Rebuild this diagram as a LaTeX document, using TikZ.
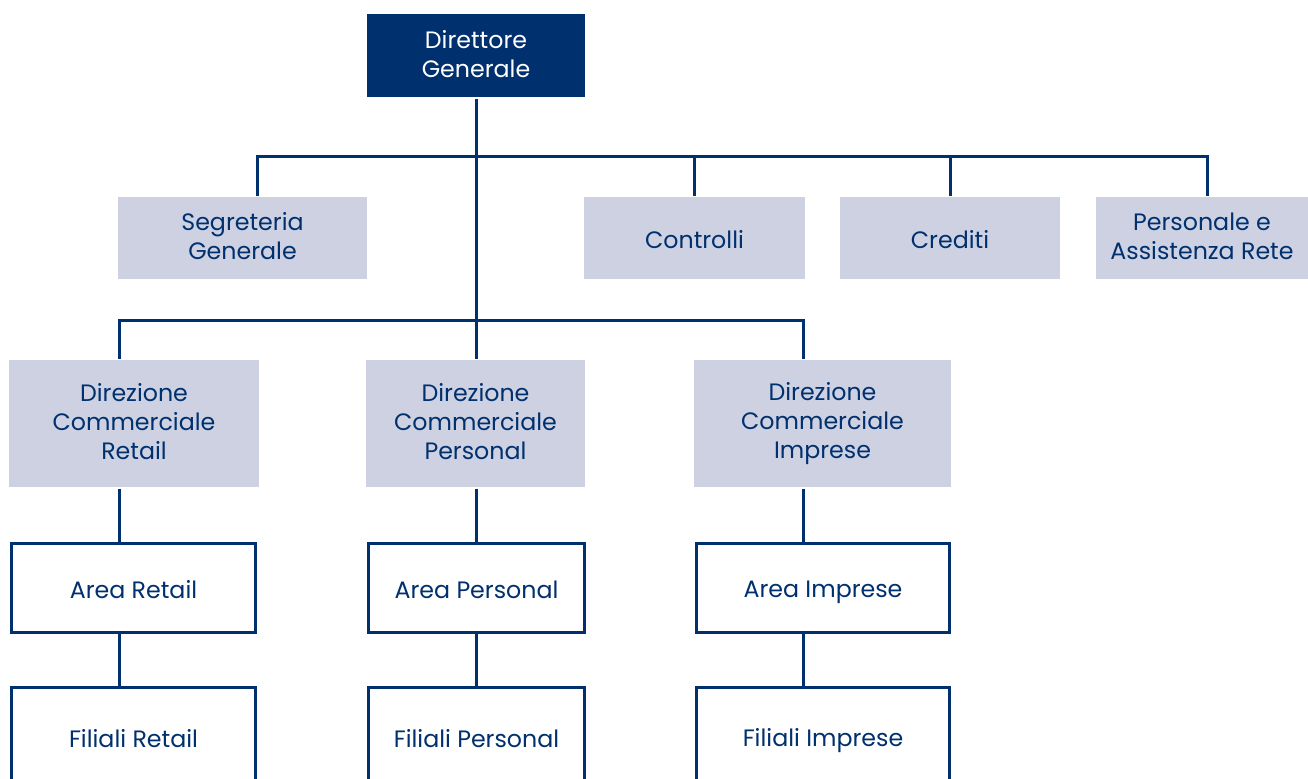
\documentclass[tikz,border=0pt]{standalone}
\usepackage{fontspec}
\setmainfont{Poppins}
\usetikzlibrary{positioning}
\definecolor{navy}{HTML}{00306E}
\definecolor{lilac}{HTML}{CDD1E2}
\def\px{0.02cm}
\def\ustrut{\rule[-2.1pt]{0pt}{16.5pt}}

\begin{document}
\begin{tikzpicture}[x=\px, y=-\px, line width=3*\px]
    \tikzstyle{unit}=[rectangle, inner sep=0pt, align=center, text=navy, font=\fontsize{13.5}{16.5}\selectfont, execute at begin node=\ustrut, execute at end node=\ustrut]
    \tikzstyle{head}=[unit, fill=navy, text=white]
    \tikzstyle{staff}=[unit, fill=lilac]
    \tikzstyle{area}=[unit, draw=navy, fill=white]
    \tikzstyle{conn}=[draw=navy]

    \clip (0,0) rectangle (1308,778);

    % top
    \node[head, minimum width=218*\px, minimum height=83*\px] (dg) at (476,55.5) {Direttore\\Generale};

    % staff row
    \node[staff, minimum width=249*\px, minimum height=82*\px] (seg) at (242.5,238) {Segreteria\\Generale};
    \node[staff, minimum width=221*\px, minimum height=82*\px] (con) at (694.5,238) {Controlli};
    \node[staff, minimum width=220*\px, minimum height=82*\px] (cre) at (950,238) {Crediti};
    \node[staff, minimum width=212*\px, minimum height=82*\px] (per) at (1202,238) {Personale e\\Assistenza Rete};

    % direzioni
    \node[staff, minimum width=250*\px, minimum height=127*\px] (dcr) at (134,423.5) {Direzione\\Commerciale\\Retail};
    \node[staff, minimum width=219*\px, minimum height=127*\px] (dcp) at (475.5,423.5) {Direzione\\Commerciale\\Personal};
    \node[staff, minimum width=257*\px, minimum height=127*\px] (dci) at (822.5,423.5) {Direzione\\Commerciale\\Imprese};

    % aree
    \node[area, minimum width=244*\px, minimum height=89*\px] (ar) at (133.5,588) {Area Retail};
    \node[area, minimum width=216*\px, minimum height=89*\px] (ap) at (476.5,588) {Area Personal};
    \node[area, minimum width=253*\px, minimum height=89*\px] (ai) at (823,588) {Area Imprese};

    % filiali
    \node[area, minimum width=244*\px, minimum height=99*\px] (fr) at (133.5,737) {Filiali Retail};
    \node[area, minimum width=216*\px, minimum height=99*\px] (fp) at (476.5,737) {Filiali Personal};
    \node[area, minimum width=253*\px, minimum height=99*\px] (fi) at (823,737) {Filiali Imprese};

    % bus points
    \coordinate (b1) at (476,156);
    \coordinate (b2) at (476,320);
    \coordinate (s1) at (257,156);
    \coordinate (s3) at (694,156);
    \coordinate (s4) at (950,156);
    \coordinate (s5) at (1207,156);
    \coordinate (r1) at (119,320);
    \coordinate (r3) at (803,320);

    \draw[conn] (dg.south) -- (b2);
    \draw[conn] (s1 |- seg.north) -- (s1) -- (s5) -- (s5 |- per.north);
    \foreach \c/\n in {s3/con, s4/cre}
        \draw[conn] (\c) -- (\c |- \n.north);
    \draw[conn] (r1 |- dcr.north) -- (r1) -- (r3) -- (r3 |- dci.north);
    \draw[conn] (b2) -- (b2 |- dcp.north);

    \foreach \c/\d/\a/\f in {r1/dcr/ar/fr, b2/dcp/ap/fp, r3/dci/ai/fi}{
        \draw[conn] (\c |- \d.south) -- (\c |- \a.north);
        \draw[conn] (\c |- \a.south) -- (\c |- \f.north);
    }
\end{tikzpicture}
\end{document}
